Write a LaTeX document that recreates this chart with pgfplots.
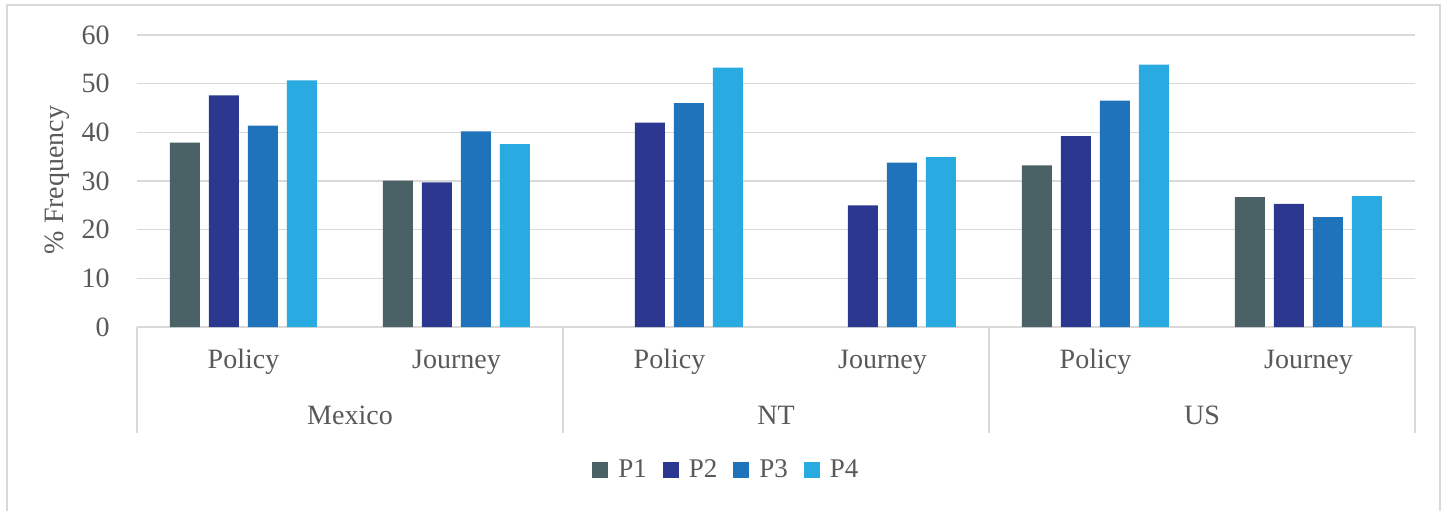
\documentclass[border=0pt]{standalone}
\usepackage{pgfplots}
\pgfplotsset{compat=1.18}
\usepackage{fontspec}
\setmainfont{Liberation Serif}

\definecolor{txt}{HTML}{595959}
\definecolor{gridc}{HTML}{D9D9D9}
\definecolor{pone}{HTML}{4A6166}
\definecolor{ptwo}{HTML}{2C3790}
\definecolor{pthree}{HTML}{1E73BB}
\definecolor{pfour}{HTML}{29ABE2}

\begin{document}
\begin{tikzpicture}
\begin{axis}[
	at={(0pt,0pt)}, anchor=south west,
	scale only axis,
	width=639pt, height=146pt,
	ybar=4.5pt, bar width=15pt,
	xmin=-0.5, xmax=5.5,
	ymin=0, ymax=60,
	ytick={0,10,...,60},
	xtick={0,...,5},
	xticklabels={Policy,Journey,Policy,Journey,Policy,Journey},
	major tick length=0pt,
	ymajorgrids,
	grid style={gridc, line width=0.75pt},
	axis line style={draw=none},
	every axis plot/.append style={draw=none},
	clip=false,
	font=\fontsize{14pt}{16pt}\selectfont,
	/pgf/number format/assume math mode=true,
	yticklabel style={txt, anchor=east, inner sep=0pt, xshift=-13.5pt},
	xticklabel style={txt, anchor=center, inner sep=0pt, yshift=-17.5pt},
	legend columns=4,
	legend style={draw=none, fill=none, at={(rel axis cs:0.462,-0.49)}, anchor=center,
		font=\fontsize{13.5pt}{15pt}\selectfont\color{txt},
		/tikz/every odd column/.append style={column sep=3pt},
		/tikz/every even column/.append style={column sep=6pt}},
	legend image code/.code={\fill (0pt,-4pt) rectangle (8pt,4pt);},
]
\addplot[fill=pone] coordinates {(0,37.9) (1,30.1) (4,33.2) (5,26.7)};
\addplot[fill=ptwo] coordinates {(0,47.6) (1,29.7) (2,42.0) (3,25.0) (4,39.2) (5,25.3)};
\addplot[fill=pthree] coordinates {(0,41.4) (1,40.2) (2,46.0) (3,33.8) (4,46.5) (5,22.6)};
\addplot[fill=pfour] coordinates {(0,50.7) (1,37.6) (2,53.3) (3,34.9) (4,53.9) (5,26.9)};
\legend{P1,P2,P3,P4}

\foreach \s in {-0.5,1.5,3.5,5.5}{
	\edef\temp{\noexpand\draw[gridc, line width=0.75pt] (axis cs:\s,0) -- ++(0pt,-53pt);}
	\temp
}
\node[txt] at ([yshift=-44pt]axis cs:0.5,0) {Mexico};
\node[txt] at ([yshift=-44pt]axis cs:2.5,0) {NT};
\node[txt] at ([yshift=-44pt]axis cs:4.5,0) {US};
\end{axis}
\node[txt, rotate=90, font=\fontsize{14pt}{16pt}\selectfont] at (-40pt,73.5pt) {\% Frequency};
\draw[gridc, line width=0.8pt] (-65pt,-100pt) rectangle (651.5pt,161pt);
\pgfresetboundingbox
\useasboundingbox (-68.5pt,-91.5pt) rectangle (655.5pt,163.5pt);
\end{tikzpicture}
\end{document}
